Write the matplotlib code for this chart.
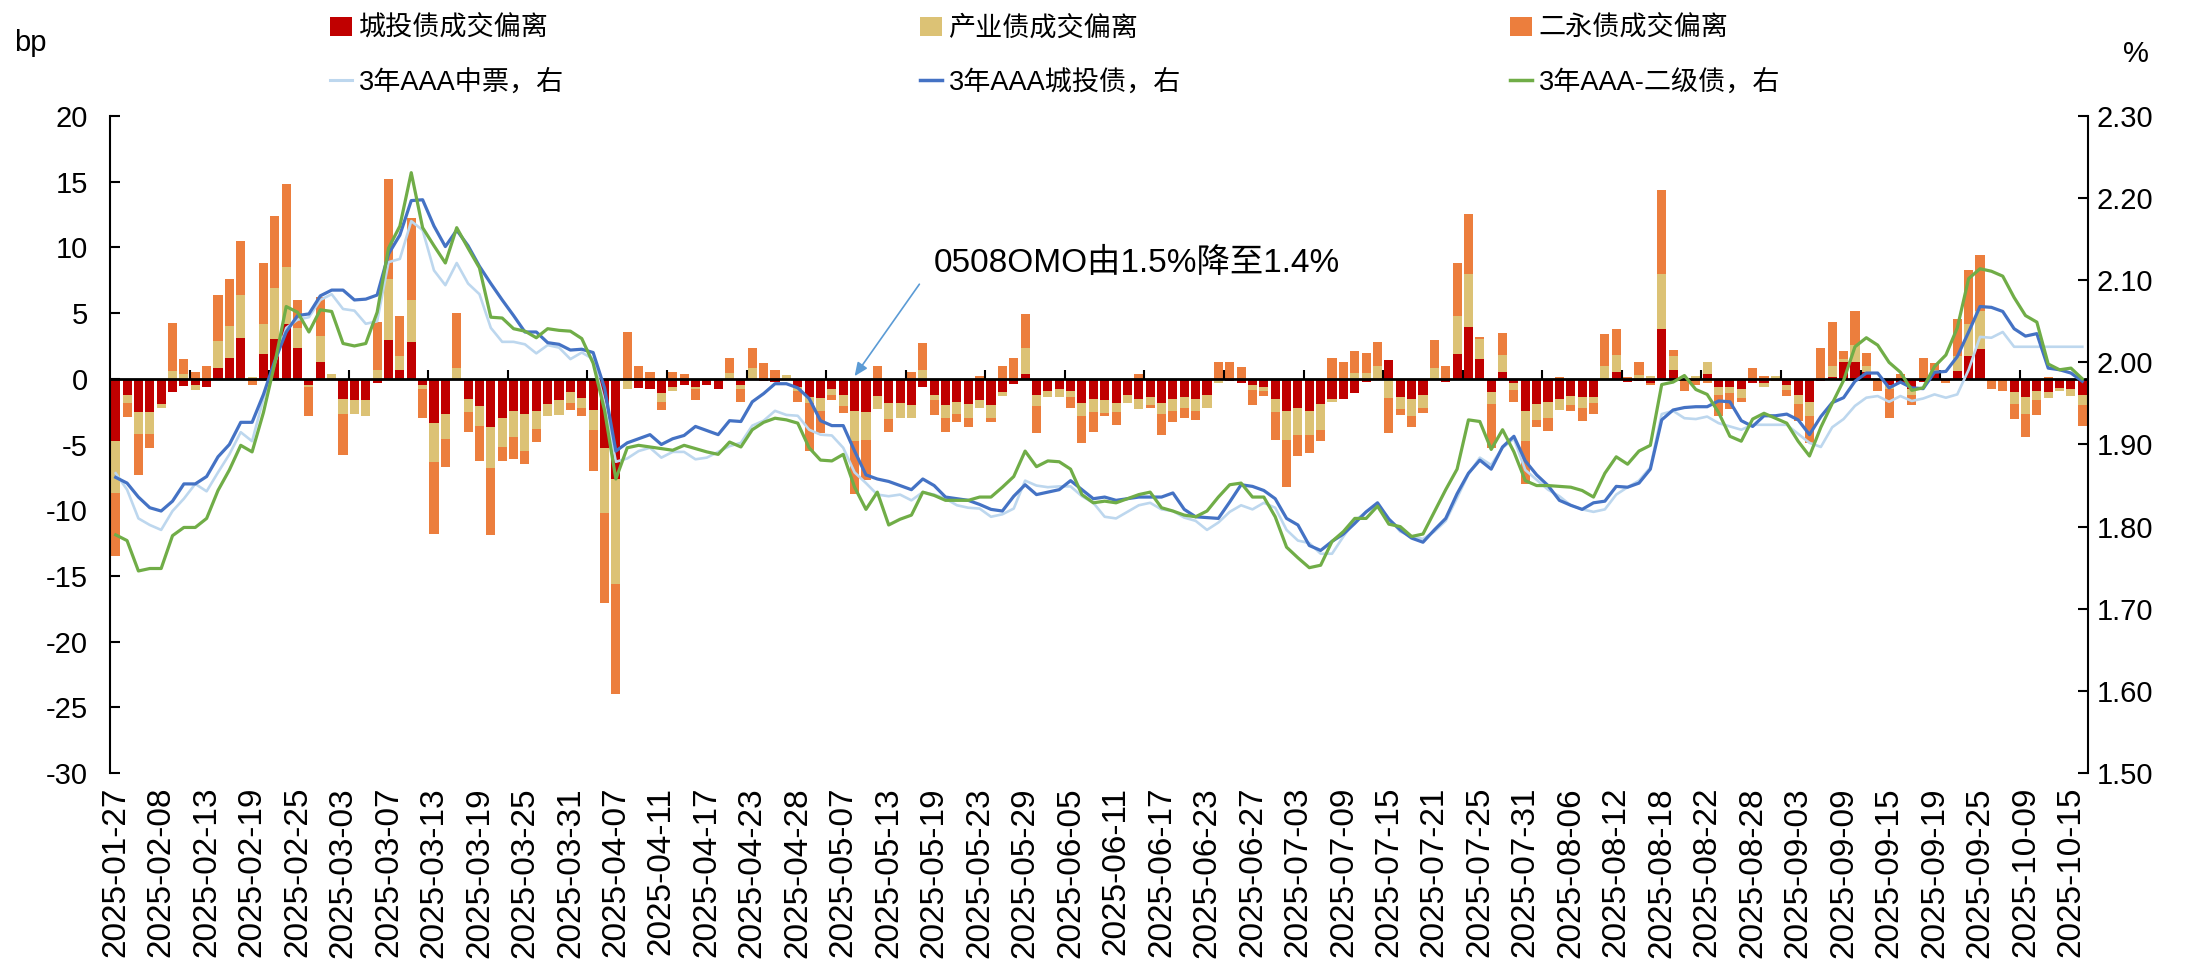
import numpy as np
import pandas as pd
import matplotlib
matplotlib.use("Agg")
import matplotlib.pyplot as plt
from matplotlib.patches import Patch
from matplotlib.lines import Line2D
from matplotlib.ticker import FormatStrFormatter

plt.rcParams['font.family'] = ['Liberation Sans', 'Noto Sans CJK SC', 'DejaVu Sans']
plt.rcParams['axes.unicode_minus'] = False

# trading days: weekdays minus holidays, plus the weekend make-up days present in the data
holidays = ["2025-01-28", "2025-01-29", "2025-01-30", "2025-01-31", "2025-02-03", "2025-02-04",
            "2025-04-04", "2025-05-01", "2025-05-02", "2025-05-05", "2025-06-02",
            "2025-10-01", "2025-10-02", "2025-10-03", "2025-10-06", "2025-10-07", "2025-10-08"]
extra_days = ["2025-02-08", "2025-04-27"]
days = pd.bdate_range("2025-01-27", "2025-10-16")
days = days[~days.isin(pd.to_datetime(holidays))].union(pd.to_datetime(extra_days))
dates = days.strftime("%Y-%m-%d").tolist()

# bp, stacked columns
chengtou = [-4.7, -1.2, -2.55, -2.55, -1.9, -1.0, -0.55, -0.5, -0.65, 0.85,
            1.6, 3.1, 0, 1.9, 3.0, 4.2, 2.35, -0.45, 1.25, 0,
            -1.55, -1.6, -1.6, -0.35, 2.95, 0.7, 2.8, -0.5, -3.4, -2.7,
            0, -1.5, -2.1, -3.7, -2.95, -2.45, -2.7, -2.45, -1.9, -1.6,
            -1.0, -1.45, -2.4, -5.25, -7.6, 0, -0.7, -0.75, -1.1, -0.6,
            -0.45, -0.6, -0.5, -0.75, 0, -0.5, 0, -0.2, -0.25, 0,
            -0.6, -1.35, -1.45, -0.8, -1.2, -2.45, -2.55, -1.3, -1.85, -1.85,
            -2.0, -0.6, -1.25, -2.0, -1.75, -1.9, -1.6, -2.0, -1.0, -0.4,
            0.4, -1.2, -0.9, -0.8, -0.9, -1.85, -1.5, -1.6, -1.85, -1.25,
            -1.5, -1.35, -1.85, -1.5, -1.35, -1.5, -1.2, 0, -0.15, -0.35,
            -0.5, -0.6, -1.5, -2.45, -2.25, -2.45, -1.9, -1.5, -1.5, -1.1,
            -0.25, 0, 1.4, -1.35, -1.5, -1.2, 0, -0.25, 1.85, 3.95,
            1.5, -1.0, 0.55, -0.35, -2.45, -1.95, -1.75, -1.5, -1.3, -1.35,
            -1.35, 0, 0.5, -0.25, -0.15, -0.35, 3.8, 0.7, 0, 0,
            0.4, -0.6, -0.6, -0.8, -0.35, -0.35, 0, -0.5, -1.2, -1.75,
            -0.15, 0.15, 1.3, 1.3, 0.5, 0, -0.5, -0.35, -0.8, -0.25,
            0.5, -0.15, 0.6, 1.7, 2.25, 0, 0, -1.0, -1.35, -0.9,
            -1.0, -0.7, -0.8, -1.25]
chanye = [-4.0, -0.65, -1.65, -1.65, -0.35, 0.6, 0.33, -0.35, 0, 2.05,
          2.45, 3.3, 0.1, 2.3, 3.9, 4.3, 1.55, -0.15, 2.0, 0.4,
          -1.15, -1.1, -1.2, 0.65, 4.65, 1.0, 3.2, -0.3, -2.9, -1.9,
          0.85, -1.0, -1.5, -3.1, -2.25, -2.0, -2.8, -1.35, -0.9, -1.15,
          -0.85, -0.75, -1.5, -4.95, -8.0, -0.75, 0, 0, -0.7, -0.3,
          0, -0.2, 0, 0, 0.45, -0.3, 0.8, 0, 0, 0.3,
          -0.3, -0.5, -1.0, -0.4, -0.9, -2.25, -2.1, -1.0, -1.2, -1.1,
          -0.95, 0.7, -0.35, -0.95, -0.95, -1.1, -0.6, -0.95, -0.3, 0,
          1.95, -0.9, -0.45, -0.55, -0.45, -1.0, -1.05, -1.0, -0.7, -0.6,
          -0.8, -0.65, -0.85, -0.95, -0.9, -0.95, -1.0, -0.3, 0, 0,
          -0.35, -0.35, -1.05, -2.2, -2.05, -1.85, -2.0, -0.25, 0, 0.45,
          0.45, 1.0, -1.45, -0.95, -1.35, -1.05, 0.8, 0, 2.95, 4.05,
          1.55, -0.9, 1.25, -0.5, -2.25, -1.15, -1.2, -0.85, -0.7, -0.9,
          -0.5, 0.95, 1.3, 0, 0.3, 0.25, 4.2, 1.0, 0, 0.25,
          0.9, -0.6, -0.5, -0.65, 0, -0.25, 0.25, -0.35, -0.7, -1.1,
          0, 0.85, 0.2, 1.3, 0.5, 0, -0.3, 0, -0.4, 0,
          0.2, 0, 1.1, 2.5, 2.9, 0, 0, -0.9, -1.35, -0.7,
          -0.45, -0.25, -0.5, -0.75]
eryong = [-4.8, -1.05, -3.1, -1.1, 0, 3.65, 1.2, 0.5, 0.95, 3.5,
          3.55, 4.1, -0.5, 4.65, 5.5, 6.3, 2.1, -2.25, 3.0, 0,
          -3.1, 0, 0, 3.7, 7.6, 3.1, 6.2, -2.2, -5.5, -2.1,
          4.15, -1.55, -2.65, -5.1, -1.05, -1.65, -1.0, -1.0, 0, 0,
          -0.5, -0.6, -3.1, -6.9, -8.4, 3.55, 0.95, 0.5, -0.6, 0.5,
          0.35, -0.8, 0, 0, 1.15, -0.95, 1.55, 1.2, 0.7, 0,
          -0.85, -3.65, -1.7, -0.45, -0.5, -4.1, -3.05, 0.95, -1.0, 0,
          0.5, 2.05, -1.15, -1.1, -0.6, -0.7, 0.25, -0.35, 0.95, 1.6,
          2.55, -2.05, 0, 0, -0.85, -2.05, -1.5, -0.2, -0.95, 0,
          0.35, -0.2, -1.6, -0.85, -0.7, -0.7, 0, 1.3, 1.3, 0.9,
          -1.15, -0.35, -2.1, -3.55, -1.55, -1.35, -0.85, 1.6, 1.25, 1.7,
          1.5, 1.8, -2.65, -0.45, -0.85, -0.35, 2.15, 0.95, 4.0, 4.55,
          0.15, -3.35, 1.7, -0.9, -3.3, -0.6, -1.05, 0.1, -0.45, -0.95,
          -0.8, 2.45, 2.0, 0.1, 1.0, -0.15, 6.4, 0.5, -0.9, -0.5,
          -0.35, -1.6, -1.2, -0.35, 0.85, 0.25, -0.15, -0.45, -1.3, -2.05,
          2.35, 3.3, 0.65, 2.55, 0.95, -0.9, -2.2, 0.35, -0.8, 1.6,
          0.5, -0.2, 2.85, 4.1, 4.3, -0.75, -0.95, -1.15, -1.75, -1.15,
          0.1, 0, 0, -1.6]

# %, right axis
mtn_3y = [1.865, 1.845, 1.810, 1.802, 1.796, 1.819, 1.834, 1.852, 1.843, 1.866,
          1.888, 1.915, 1.904, 1.956, 1.999, 2.042, 2.052, 2.055, 2.076, 2.083,
          2.065, 2.063, 2.047, 2.050, 2.122, 2.126, 2.172, 2.161, 2.112, 2.094,
          2.121, 2.096, 2.083, 2.042, 2.025, 2.025, 2.022, 2.011, 2.021, 2.018,
          2.004, 2.012, 2.004, 1.950, 1.879, 1.883, 1.892, 1.896, 1.884, 1.891,
          1.891, 1.882, 1.884, 1.891, 1.898, 1.902, 1.923, 1.929, 1.941, 1.936,
          1.935, 1.918, 1.912, 1.911, 1.896, 1.866, 1.853, 1.839, 1.837, 1.839,
          1.832, 1.842, 1.839, 1.834, 1.826, 1.823, 1.822, 1.812, 1.815, 1.822,
          1.856, 1.850, 1.848, 1.849, 1.849, 1.837, 1.829, 1.812, 1.810, 1.818,
          1.826, 1.829, 1.821, 1.819, 1.811, 1.807, 1.796, 1.805, 1.818, 1.826,
          1.821, 1.829, 1.823, 1.796, 1.783, 1.780, 1.767, 1.767, 1.788, 1.807,
          1.818, 1.827, 1.810, 1.794, 1.788, 1.785, 1.794, 1.807, 1.835, 1.864,
          1.884, 1.875, 1.896, 1.907, 1.869, 1.857, 1.845, 1.837, 1.826, 1.821,
          1.818, 1.821, 1.839, 1.848, 1.856, 1.872, 1.937, 1.941, 1.932, 1.931,
          1.934, 1.926, 1.922, 1.918, 1.924, 1.924, 1.924, 1.924, 1.913, 1.902,
          1.897, 1.921, 1.931, 1.947, 1.957, 1.959, 1.952, 1.959, 1.953, 1.956,
          1.961, 1.957, 1.961, 1.991, 2.031, 2.030, 2.037, 2.019, 2.019, 2.019,
          2.019, 2.019, 2.019, 2.019]
chengtou_3y = [1.860, 1.853, 1.836, 1.823, 1.819, 1.831, 1.852, 1.852, 1.861, 1.885,
               1.900, 1.927, 1.927, 1.961, 2.002, 2.037, 2.057, 2.059, 2.081, 2.088,
               2.088, 2.076, 2.077, 2.082, 2.132, 2.155, 2.197, 2.198, 2.166, 2.141,
               2.161, 2.142, 2.117, 2.096, 2.076, 2.057, 2.037, 2.037, 2.024, 2.022,
               2.015, 2.016, 2.012, 1.969, 1.892, 1.902, 1.907, 1.912, 1.900, 1.907,
               1.911, 1.922, 1.917, 1.912, 1.929, 1.928, 1.952, 1.962, 1.974, 1.974,
               1.969, 1.956, 1.929, 1.923, 1.923, 1.892, 1.863, 1.858, 1.855, 1.850,
               1.845, 1.858, 1.850, 1.836, 1.834, 1.832, 1.827, 1.821, 1.819, 1.837,
               1.851, 1.839, 1.842, 1.845, 1.856, 1.845, 1.834, 1.836, 1.832, 1.834,
               1.836, 1.836, 1.836, 1.841, 1.821, 1.812, 1.811, 1.810, 1.830, 1.851,
               1.849, 1.844, 1.834, 1.810, 1.802, 1.777, 1.771, 1.782, 1.791, 1.804,
               1.818, 1.829, 1.809, 1.796, 1.786, 1.781, 1.796, 1.810, 1.840, 1.865,
               1.881, 1.870, 1.897, 1.910, 1.880, 1.863, 1.850, 1.832, 1.826, 1.821,
               1.829, 1.831, 1.849, 1.848, 1.853, 1.870, 1.930, 1.942, 1.945, 1.946,
               1.946, 1.953, 1.952, 1.929, 1.922, 1.935, 1.935, 1.937, 1.930, 1.912,
               1.934, 1.951, 1.957, 1.977, 1.987, 1.987, 1.969, 1.976, 1.969, 1.968,
               1.988, 1.989, 2.007, 2.037, 2.068, 2.067, 2.062, 2.041, 2.032, 2.035,
               1.993, 1.991, 1.987, 1.977]
tier2_3y = [1.790, 1.783, 1.746, 1.749, 1.749, 1.789, 1.799, 1.799, 1.810, 1.844,
            1.869, 1.899, 1.891, 1.939, 1.999, 2.068, 2.061, 2.037, 2.064, 2.062,
            2.023, 2.020, 2.023, 2.061, 2.139, 2.166, 2.231, 2.164, 2.142, 2.121,
            2.164, 2.139, 2.115, 2.055, 2.054, 2.041, 2.038, 2.030, 2.041, 2.039,
            2.038, 2.029, 1.999, 1.942, 1.858, 1.896, 1.899, 1.897, 1.895, 1.893,
            1.899, 1.895, 1.891, 1.888, 1.903, 1.897, 1.918, 1.927, 1.932, 1.930,
            1.926, 1.896, 1.881, 1.880, 1.888, 1.848, 1.821, 1.842, 1.802, 1.809,
            1.814, 1.842, 1.838, 1.832, 1.832, 1.832, 1.836, 1.836, 1.848, 1.861,
            1.892, 1.873, 1.880, 1.879, 1.870, 1.839, 1.829, 1.831, 1.829, 1.834,
            1.839, 1.842, 1.823, 1.819, 1.814, 1.812, 1.819, 1.836, 1.851, 1.853,
            1.836, 1.836, 1.812, 1.775, 1.762, 1.750, 1.753, 1.782, 1.794, 1.810,
            1.810, 1.825, 1.803, 1.800, 1.788, 1.791, 1.818, 1.845, 1.870, 1.930,
            1.928, 1.894, 1.918, 1.891, 1.856, 1.850, 1.850, 1.849, 1.848, 1.844,
            1.836, 1.865, 1.885, 1.876, 1.892, 1.899, 1.973, 1.976, 1.984, 1.967,
            1.961, 1.939, 1.910, 1.904, 1.931, 1.938, 1.932, 1.926, 1.904, 1.886,
            1.921, 1.950, 1.978, 2.019, 2.030, 2.021, 2.000, 1.988, 1.966, 1.969,
            1.995, 2.009, 2.042, 2.102, 2.114, 2.111, 2.105, 2.079, 2.057, 2.049,
            1.998, 1.991, 1.993, 1.980]

bar_names = ["城投债成交偏离", "产业债成交偏离", "二永债成交偏离"]
line_names = ["3年AAA中票，右", "3年AAA城投债，右", "3年AAA-二级债，右"]
ann_text = "0508OMO由1.5%降至1.4%"

C_RED, C_KHAKI, C_ORANGE = "#C00000", "#DCC275", "#EC7E3D"
C_LBLUE, C_BLUE, C_GREEN = "#BDD7EE", "#4472C4", "#70AD47"

assert len(dates) == len(chengtou)
x = np.arange(len(dates))

fig = plt.figure(figsize=(21.93, 9.75), dpi=100)
ax = fig.add_axes([110 / 2193, 1 - 773 / 975, (2088 - 110) / 2193, (773 - 116) / 975])
ax2 = ax.twinx()

# stacked columns, positives up from 0 and negatives down from 0
pos = np.zeros(len(x))
neg = np.zeros(len(x))
for vals, color in zip([chengtou, chanye, eryong], [C_RED, C_KHAKI, C_ORANGE]):
    v = np.array(vals, dtype=float)
    bottom = np.where(v >= 0, pos, neg)
    ax.bar(x, v, bottom=bottom, width=0.8, color=color, linewidth=0, zorder=2)
    pos += np.clip(v, 0, None)
    neg += np.clip(v, None, 0)

ax.axhline(0, color="black", lw=2, zorder=3)
ax.vlines(np.arange(7, len(x), 7) - 0.5, 0, 0.7, color="black", lw=1.5, zorder=3)

ax2.plot(x, mtn_3y, color=C_LBLUE, lw=1.9)
ax2.plot(x, chengtou_3y, color=C_BLUE, lw=2.3)
ax2.plot(x, tier2_3y, color=C_GREEN, lw=2.3)

ax.set_xlim(-0.5, len(x) - 0.5)
ax.set_ylim(-30, 20)
ax.set_yticks(np.arange(-30, 21, 5))
ax.set_xticks(x[::4])
ax.set_xticklabels(dates[::4], rotation=90, fontsize=24)
ax.tick_params(axis="x", length=0, pad=10)
ax.tick_params(axis="y", direction="in", length=7, width=1.5, labelsize=21, pad=16)

ax2.set_ylim(1.5, 2.3)
ax2.set_yticks(np.arange(1.5, 2.31, 0.1))
ax2.yaxis.set_major_formatter(FormatStrFormatter("%.2f"))
ax2.tick_params(axis="y", direction="in", length=7, width=1.5, labelsize=21, pad=6)

for s in ["top", "bottom", "right"]:
    ax.spines[s].set_visible(False)
for s in ["top", "bottom", "left"]:
    ax2.spines[s].set_visible(False)
ax.spines["left"].set_linewidth(1.5)
ax2.spines["right"].set_linewidth(1.5)

# annotation for the OMO cut
ax.text(72, 8.8, ann_text, fontsize=24, va="center", ha="left", zorder=5)
ax.annotate("", xy=(65, 0.2), xytext=(70.7, 7.2),
            arrowprops=dict(arrowstyle="-|>,head_length=0.8,head_width=0.35",
                            color="#5B9BD5", lw=1.2, shrinkA=0, shrinkB=0), zorder=5)

fig.text(30 / 2193, 1 - 43 / 975, "bp", fontsize=21, ha="center", va="center")
fig.text(2136 / 2193, 1 - 54 / 975, "%", fontsize=21, ha="center", va="center")

# legend: three columns, two rows
bar_handles = [Patch(facecolor=c) for c in [C_RED, C_KHAKI, C_ORANGE]]
line_handles = [Line2D([], [], color=c, lw=w) for c, w in
                zip([C_LBLUE, C_BLUE, C_GREEN], [2.2, 2.5, 2.5])]
col_x = [330, 920, 1510]
for k in range(3):
    fig.legend([bar_handles[k], line_handles[k]], [bar_names[k], line_names[k]],
               loc="upper left", bbox_to_anchor=(col_x[k] / 2193, 1 - 16 / 975),
               frameon=False, fontsize=19.5, handlelength=0.8, handleheight=0.7,
               handletextpad=0.25, labelspacing=1.0, borderpad=0, borderaxespad=0)

fig.savefig("out.png", dpi=100)
